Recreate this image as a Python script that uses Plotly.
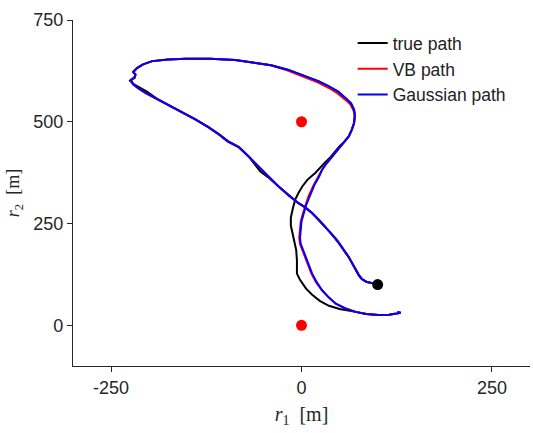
import plotly.graph_objects as go

# Gaussian path, data units [m]
gauss_x = [100, 92, 85, 79, 75, 72, 69, 65, 62, 57, 53, 49, 45, 38, 31, 23, 14, 5, -4, -17,
           -30, -43, -56, -69, -82, -97, -108, -122, -139, -156, -174, -190, -205, -215, -221, -224,
           -219, -218, -221, -216, -208, -196, -175, -152, -120, -87, -62, -40, -18, 5, 22, 36, 48,
           58, 65, 69, 70, 69, 66, 62, 55, 48, 40, 33, 27, 23, 17, 10, 6, 3, 0, -1, -2, -1, 2, 5, 9,
           14, 20, 27, 36, 45, 57, 71, 85, 101, 115, 125, 130, 126]
gauss_y = [103, 104, 107, 114, 123, 134, 144, 156, 168, 181, 193, 203, 213, 228, 242, 259, 276,
           290, 300, 320, 341, 365, 390, 414, 437, 452, 468, 486, 505, 522, 538, 555, 571, 583, 592,
           603, 610, 616, 622, 632, 641, 649, 653, 655, 655, 652, 646, 639, 628, 612, 600, 587, 574,
           558, 545, 530, 515, 497, 480, 464, 448, 432, 415, 398, 382, 365, 345, 316, 295, 275, 255,
           234, 215, 200, 185, 168, 147, 127, 106, 86, 68, 53, 42, 33, 28, 25, 26, 29, 31, 33]

# VB path
vb_x = [100, 92, 85, 79, 75, 72, 69, 65, 62, 57, 53, 49, 45, 38, 31, 23, 14, 5, -4, -17,
        -30, -43, -56, -69, -82, -97, -108, -122, -139, -156, -174, -190, -205, -215, -221, -224,
        -219, -218, -221, -216, -208, -196, -175, -152, -120, -87, -62, -40, -18, 5, 22, 36, 47,
        57, 64, 68, 70, 69, 66, 62, 55, 48, 40, 33, 27, 22, 16, 9, 5, 2, -1, -2, -3, -2, 1, 4, 8,
        13, 19, 27, 36, 45, 57, 71, 85, 101, 115, 125, 130, 126]
vb_y = [103, 104, 107, 114, 123, 134, 144, 156, 168, 181, 193, 203, 213, 228, 242, 259, 276,
        290, 300, 320, 341, 365, 390, 414, 437, 452, 468, 486, 505, 522, 538, 555, 571, 583, 592,
        603, 610, 616, 622, 632, 641, 649, 653, 655, 655, 652, 646, 639, 626, 608, 596, 583, 570,
        555, 543, 529, 515, 497, 480, 464, 448, 432, 415, 398, 382, 365, 345, 316, 295, 275, 255,
        234, 215, 200, 185, 168, 147, 127, 106, 86, 68, 53, 42, 33, 28, 25, 26, 29, 31, 33]

# True path
true_x = [100, 92, 86, 80, 76, 73, 70, 66, 62, 58, 53, 49, 44, 38, 31, 23, 14, 5, -4, -17,
          -30, -44, -54, -60, -69, -82, -97, -108, -122, -139, -156, -174, -190, -203, -213, -221,
          -225, -219, -218, -221, -216, -208, -196, -175, -152, -120, -87, -62, -40, -18, 5, 22, 36,
          48, 58, 65, 69, 70, 69, 66, 62, 56, 50, 44, 38, 32, 27, 18, 8, 1, -4, -8, -11, -14, -14,
          -12, -9, -7, -6, -6, -2, 1, 6, 14, 24, 36, 50, 71, 85, 101, 115, 125, 130, 126]
true_y = [101, 103, 106, 113, 122, 132, 143, 155, 167, 179, 191, 202, 214, 227, 241, 258, 275,
          289, 300, 319, 341, 364, 378, 392, 414, 438, 453, 469, 487, 506, 523, 539, 557, 574, 585,
          593, 601, 608, 616, 622, 632, 641, 649, 653, 655, 655, 652, 646, 639, 628, 612, 600, 587,
          574, 558, 545, 530, 515, 497, 480, 464, 450, 440, 426, 413, 402, 392, 374, 358, 341, 325,
          310, 290, 265, 245, 226, 205, 185, 160, 127, 112, 103, 90, 75, 60, 48, 40, 33, 28, 25, 26,
          29, 31, 33]

# markers
anchor_x = [0, 0]
anchor_y = [500, 0]
start_x = [100]
start_y = [100]

x_ticks = [-250, 0, 250]
y_ticks = [0, 250, 500, 750]

SANS = "Liberation Sans, Arial, Helvetica, sans-serif"
SERIF = "Liberation Serif, DejaVu Serif, serif"

fig = go.Figure()
fig.add_trace(go.Scatter(x=true_x, y=true_y, mode="lines", name="true path",
                         line=dict(color="black", width=2), legendgroup="a"))
fig.add_trace(go.Scatter(x=vb_x, y=vb_y, mode="lines", name="VB path",
                         line=dict(color="#ff0000", width=2), legendgroup="b"))
fig.add_trace(go.Scatter(x=gauss_x, y=gauss_y, mode="lines", name="Gaussian path",
                         line=dict(color="#0000ff", width=2), legendgroup="c"))
fig.add_trace(go.Scatter(x=anchor_x, y=anchor_y, mode="markers", showlegend=False,
                         marker=dict(color="#ff0000", size=11)))
fig.add_trace(go.Scatter(x=start_x, y=start_y, mode="markers", showlegend=False,
                         marker=dict(color="black", size=11)))

axis_common = dict(showgrid=False, zeroline=False, showline=True, linecolor="#262626",
                   linewidth=1.2, ticks="outside", ticklen=5, tickwidth=1, tickcolor="#262626",
                   tickfont=dict(family=SANS, size=18, color="#262626"))

fig.update_layout(
    width=533, height=433,
    margin=dict(l=73, r=3, t=20, b=67),
    plot_bgcolor="white", paper_bgcolor="white",
    showlegend=True,
    legend=dict(x=0.612, y=0.985, xanchor="left", yanchor="top",
                bgcolor="rgba(255,255,255,0)", traceorder="grouped", tracegroupgap=0,
                itemwidth=30,
                font=dict(family=SANS, size=17.5, color="#222222")),
    xaxis=dict(range=[-300, 300], tickvals=x_ticks, ticktext=[str(v) for v in x_ticks],
               title=dict(text="<i>r</i><sub>1</sub>\u2002[m]", standoff=10,
                          font=dict(family=SERIF, size=20, color="#262626")),
               **axis_common),
    yaxis=dict(range=[-100, 750], tickvals=y_ticks, ticktext=[str(v) for v in y_ticks],
               title=dict(text="<i>r</i><sub>2</sub>\u2002[m]", standoff=8,
                          font=dict(family=SERIF, size=18, color="#262626")),
               **axis_common),
)

fig.write_html("out.html")
